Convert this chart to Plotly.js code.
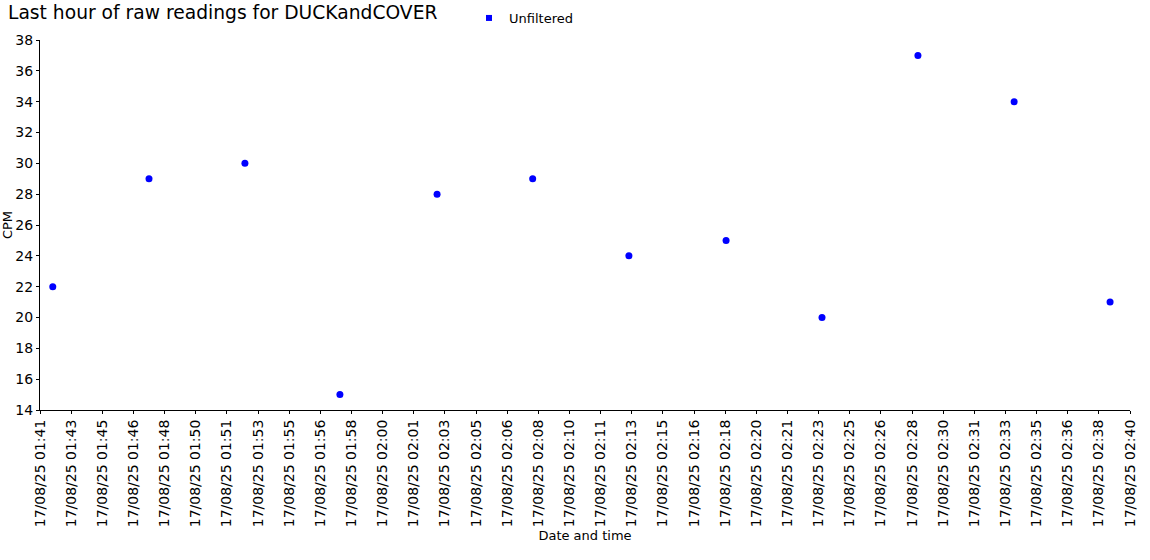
<!DOCTYPE html>
<html>
<head>
<meta charset="utf-8">
<script src="https://cdn.plot.ly/plotly-3.0.1.min.js"></script>
<style>html,body{margin:0;padding:0;background:#fff;}#chart{width:1150px;height:560px;}</style>
</head>
<body>
<div id="chart"></div>
<script>
// Reading times (17/08/25) and counts per minute
const readingTimes = [
  '2025-08-17 01:42:21', '2025-08-17 01:47:30', '2025-08-17 01:52:38',
  '2025-08-17 01:57:43', '2025-08-17 02:02:55', '2025-08-17 02:08:02',
  '2025-08-17 02:13:11', '2025-08-17 02:18:23', '2025-08-17 02:23:31',
  '2025-08-17 02:28:39', '2025-08-17 02:33:48', '2025-08-17 02:38:56'
];
const cpmValues = [22, 29, 30, 15, 28, 29, 24, 25, 20, 37, 34, 21];

const tickLabels = [
  '17/08/25 01:41', '17/08/25 01:43', '17/08/25 01:45', '17/08/25 01:46',
  '17/08/25 01:48', '17/08/25 01:50', '17/08/25 01:51', '17/08/25 01:53',
  '17/08/25 01:55', '17/08/25 01:56', '17/08/25 01:58', '17/08/25 02:00',
  '17/08/25 02:01', '17/08/25 02:03', '17/08/25 02:05', '17/08/25 02:06',
  '17/08/25 02:08', '17/08/25 02:10', '17/08/25 02:11', '17/08/25 02:13',
  '17/08/25 02:15', '17/08/25 02:16', '17/08/25 02:18', '17/08/25 02:20',
  '17/08/25 02:21', '17/08/25 02:23', '17/08/25 02:25', '17/08/25 02:26',
  '17/08/25 02:28', '17/08/25 02:30', '17/08/25 02:31', '17/08/25 02:33',
  '17/08/25 02:35', '17/08/25 02:36', '17/08/25 02:38', '17/08/25 02:40'
];
const firstTick = '2025-08-17 01:41:40';
const tickStepSeconds = 100;
const yTickValues = [14, 16, 18, 20, 22, 24, 26, 28, 30, 32, 34, 36, 38];

function pad(n) { return (n < 10 ? '0' : '') + n; }
function fmt(d) {
  return d.getFullYear() + '-' + pad(d.getMonth() + 1) + '-' + pad(d.getDate()) + ' ' +
    pad(d.getHours()) + ':' + pad(d.getMinutes()) + ':' + pad(d.getSeconds());
}
const base = new Date(firstTick.replace(' ', 'T'));
const tickVals = tickLabels.map((_, i) => fmt(new Date(base.getTime() + i * tickStepSeconds * 1000)));
const xRange = [tickVals[0], tickVals[tickVals.length - 1]];
const yRange = [yTickValues[0], yTickValues[yTickValues.length - 1]];

const FONT = 'DejaVu Sans, Verdana, sans-serif';

const traces = [
  {
    type: 'scatter', mode: 'markers', x: readingTimes, y: cpmValues,
    name: 'Unfiltered', showlegend: false,
    marker: { color: '#0000ff', size: 7, symbol: 'circle' },
    cliponaxis: false
  },
  {
    type: 'scatter', mode: 'markers', x: [null], y: [null],
    name: 'Unfiltered', showlegend: true,
    marker: { color: '#0000ff', size: 6, symbol: 'square' }
  }
];

const layout = {
  width: 1150, height: 560,
  paper_bgcolor: '#ffffff', plot_bgcolor: '#ffffff',
  font: { family: FONT, size: 13, color: '#000000' },
  margin: { l: 40, r: 20, t: 40, b: 150, pad: 0 },
  title: {
    text: 'Last hour of raw readings for DUCKandCOVER',
    font: { family: FONT, size: 18.7, color: '#000000' },
    xref: 'container', yref: 'container', x: 8 / 1150, xanchor: 'left',
    y: 1 - 12 / 560, yanchor: 'middle'
  },
  showlegend: true,
  legend: {
    orientation: 'h', xref: 'container', yref: 'container',
    x: 469 / 1150, xanchor: 'left', y: 1 - 18 / 560, yanchor: 'middle',
    font: { family: FONT, size: 13, color: '#000000' },
    bgcolor: 'rgba(0,0,0,0)', borderwidth: 0, itemwidth: 30
  },
  xaxis: {
    type: 'date', range: xRange, tickmode: 'array', tickvals: tickVals, ticktext: tickLabels,
    tickangle: -90, ticks: 'outside', ticklen: 3, tickcolor: '#000', tickwidth: 1,
    showline: true, linecolor: '#000', linewidth: 1, showgrid: false, zeroline: false,
    tickfont: { family: FONT, size: 14, color: '#000' },
    title: { text: 'Date and time', font: { family: FONT, size: 13, color: '#000' }, standoff: 4 },
    automargin: false, fixedrange: true
  },
  yaxis: {
    range: yRange, tickmode: 'array', tickvals: yTickValues,
    ticks: 'outside', ticklen: 3, tickcolor: '#000', tickwidth: 1,
    showline: true, linecolor: '#000', linewidth: 1, showgrid: false, zeroline: false,
    tickfont: { family: FONT, size: 14, color: '#000' },
    title: { text: 'CPM', font: { family: FONT, size: 13, color: '#000' }, standoff: 0 },
    automargin: false, fixedrange: true
  },
  xaxis2: {
    type: 'date', overlaying: 'x', anchor: 'y', side: 'bottom', range: xRange,
    tickmode: 'array', tickvals: tickVals, showticklabels: false,
    ticks: 'inside', ticklen: 3, tickcolor: '#000', tickwidth: 1,
    showline: false, showgrid: false, zeroline: false, fixedrange: true
  },
  yaxis2: {
    overlaying: 'y', anchor: 'x', side: 'left', range: yRange,
    tickmode: 'array', tickvals: yTickValues, showticklabels: false,
    ticks: 'inside', ticklen: 3, tickcolor: '#000', tickwidth: 1,
    showline: false, showgrid: false, zeroline: false, fixedrange: true
  }
};

Plotly.newPlot('chart', traces, layout, { displayModeBar: false, staticPlot: true });
</script>
</body>
</html>
